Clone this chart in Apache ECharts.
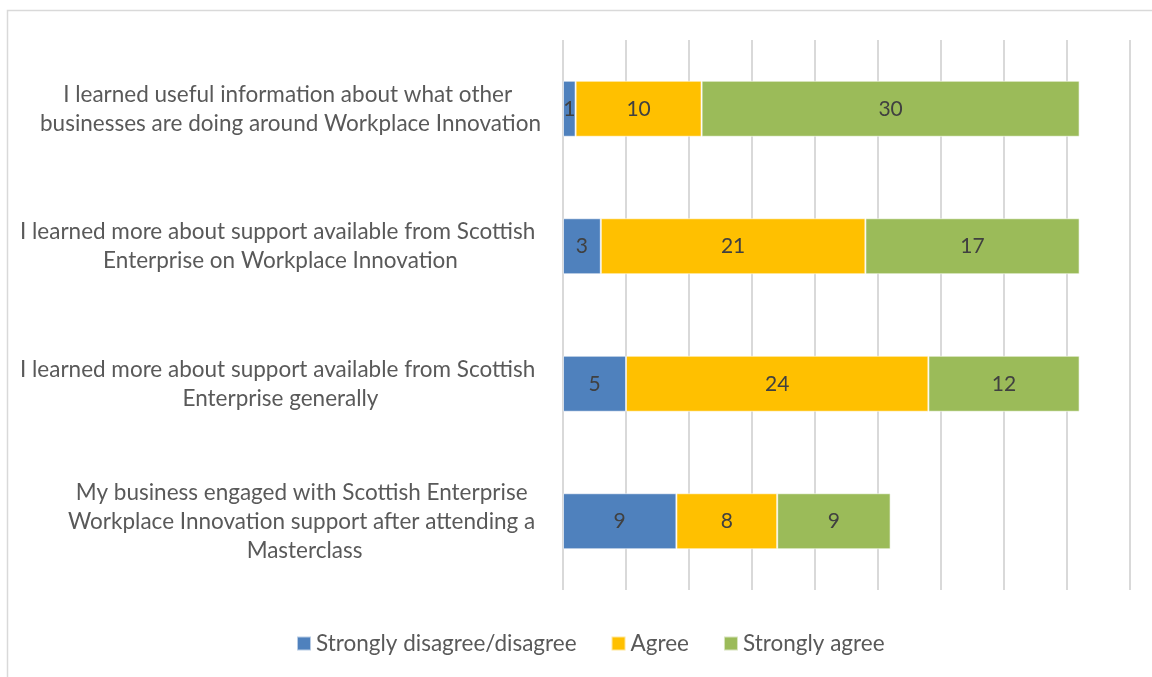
<!DOCTYPE html>
<html>
<head>
<meta charset="utf-8">
<script src="https://cdn.jsdelivr.net/npm/echarts@6/dist/echarts.min.js"></script>
<style>
html,body{margin:0;padding:0;background:#fff;}
#chart{width:1152px;height:677px;}
</style>
</head>
<body>
<div id="chart"></div>
<script>
const categories = [
  "I learned useful information about what other \nbusinesses are doing around Workplace Innovation",
  "I learned more about support available from Scottish \nEnterprise on Workplace Innovation",
  "I learned more about support available from Scottish \nEnterprise generally",
  "My business engaged with Scottish Enterprise \nWorkplace Innovation support after attending a \nMasterclass"
];
const seriesNames = ["Strongly disagree/disagree", "Agree", "Strongly agree"];
const disagreeValues = [1, 3, 5, 9];
const agreeValues = [10, 21, 24, 8];
const stronglyAgreeValues = [30, 17, 12, 9];
const xTicks = [0, 5, 10, 15, 20, 25, 30, 35, 40, 45];

const colors = ["#4F81BD", "#FFC000", "#9BBB59"];
const FONT = "Lato, 'Open Sans', sans-serif";

const chart = echarts.init(document.getElementById('chart'));

function makeSeries(name, data, color) {
  return {
    name: name,
    type: 'bar',
    stack: 'total',
    data: data,
    barWidth: 56,
    itemStyle: { color: color, borderColor: 'rgba(255,255,255,0.6)', borderWidth: 1 },
    label: {
      show: true,
      position: 'inside',
      color: '#404040',
      fontSize: 21,
      fontFamily: FONT
    },
    emphasis: { disabled: true }
  };
}

const option = {
  animation: false,
  backgroundColor: '#fff',
  graphic: [{
    type: 'rect',
    shape: { x: 7.5, y: 10.5, width: 2000, height: 2000 },
    style: { fill: 'none', stroke: '#d9d9d9', lineWidth: 1.5 },
    silent: true
  }],
  grid: { left: 563, right: 22, top: 40, bottom: 87, containLabel: false },
  legend: {
    data: seriesNames,
    top: 627,
    left: 291,
    icon: 'rect',
    itemWidth: 14,
    itemHeight: 14,
    itemGap: 34,
    textStyle: { color: '#595959', fontSize: 22.5, fontFamily: FONT }
  },
  xAxis: {
    type: 'value',
    min: xTicks[0],
    max: xTicks[xTicks.length - 1],
    interval: xTicks[1] - xTicks[0],
    axisLabel: { show: false },
    axisLine: { show: false },
    axisTick: { show: false },
    splitLine: { show: true, lineStyle: { color: '#d9d9d9', width: 2 } }
  },
  yAxis: {
    type: 'category',
    data: categories,
    inverse: true,
    axisLine: { show: false },
    axisTick: { show: false },
    axisLabel: {
      align: 'right',
      margin: 22,
      formatter: function (v) {
        return v.split('\n').map(function (l) { return '{c|' + l + '}'; }).join('\n');
      },
      rich: {
        c: { align: 'center', color: '#595959', fontSize: 22.5, fontFamily: FONT, lineHeight: 29 }
      }
    }
  },
  series: [
    makeSeries(seriesNames[0], disagreeValues, colors[0]),
    makeSeries(seriesNames[1], agreeValues, colors[1]),
    makeSeries(seriesNames[2], stronglyAgreeValues, colors[2])
  ]
};
chart.setOption(option);
</script>
</body>
</html>
